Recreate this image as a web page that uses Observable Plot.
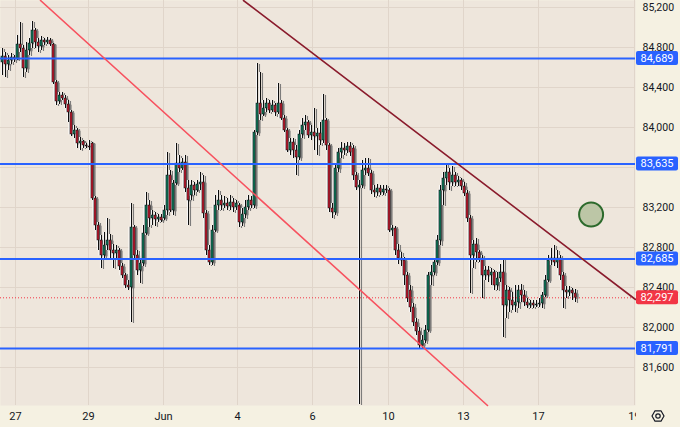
<!DOCTYPE html>
<html><head><meta charset="utf-8">
<script src="https://cdn.jsdelivr.net/npm/d3@7"></script>
<script src="https://cdn.jsdelivr.net/npm/@observablehq/plot@0.6"></script>
<style>
html,body{margin:0;padding:0;background:#f5f1e2;}
#chart svg{display:block}
</style></head><body><div id="chart"></div>
<script>
// ---- data ----
const open = [
84650,84710,84630,84670,84700,84680,84830,84790,84590,84770,
84840,84970,84850,84810,84870,84850,84870,84830,84450,84260,
84320,84290,84230,84150,83930,83970,83840,83860,83820,83810,
83840,83290,83020,82870,82720,82820,82870,82770,82740,82770,
82610,82520,82420,82400,83000,82720,82570,82640,82940,83220,
83090,83120,83080,83100,83090,83170,83520,83170,83440,83640,
83590,83650,83390,83320,83420,83370,83430,83450,83140,82770,
82650,82970,83220,83270,83220,83240,83210,83250,83200,83220,
83050,83130,83200,83270,83220,83950,84240,84130,84190,84240,
84170,84220,84150,84240,84090,83970,83770,83850,83770,83700,
83930,84020,84050,83920,83950,83910,83940,83870,84070,83820,
83190,83150,83590,83750,83790,83770,83810,83790,83520,83400,
83420,83570,83590,83540,83370,83350,83390,83350,83380,83370,
82970,82990,82770,82690,82670,82520,82370,82200,82050,81960,
81820,81870,81970,82520,82550,82650,82870,83370,83490,83550,
83450,83520,83450,83470,83410,83340,83090,82720,82830,82750,
82690,82520,82570,82520,82550,82420,82490,82550,82220,82370,
82270,82220,82250,82370,82320,82250,82220,82240,82220,82230,
82240,82320,82470,82670,82690,82650,82690,82520,82370,82350,
82370,82340];
const high = [
84790,84750,84720,84740,84720,84920,85050,84820,84850,84890,
85060,84990,84890,84910,84890,84900,84890,84840,84470,84350,
84350,84320,84270,84170,84020,83990,83900,83870,83840,83870,
83850,83310,83050,82920,82950,83090,82930,82830,82820,82790,
82640,82540,82470,83240,83020,82770,82690,83020,83350,83270,
83170,83150,83130,83130,83220,83750,83570,83470,83840,83720,
83690,83720,83470,83470,83450,83470,83550,83520,83170,82820,
83020,83320,83370,83320,83310,83290,83320,83290,83270,83240,
83190,83270,83320,83310,83970,84640,84550,84270,84290,84270,
84270,84240,84440,84270,84120,83990,83890,83890,83820,83970,
84090,84120,84070,84020,84190,83990,84050,84330,84090,83840,
83240,83620,83790,83850,83840,83850,83850,83820,83550,83470,
83670,83690,83690,83570,83420,83430,83420,83420,83420,83390,
83020,83010,82830,82750,82700,82550,82420,82240,82090,82000,
81920,82020,82550,82620,82690,82920,83420,83550,83640,83590,
83610,83550,83510,83490,83450,83370,83120,82870,82890,82770,
82720,82610,82610,82590,82570,82550,82630,82690,82420,82400,
82350,82420,82420,82430,82370,82290,82270,82270,82270,82290,
82350,82520,82720,82790,82820,82770,82720,82550,82410,82410,
82390,82380];
const low = [
84520,84500,84570,84630,84650,84670,84750,84500,84550,84720,
84790,84790,84750,84770,84820,84830,84810,84430,84220,84230,
84270,84190,84050,83910,83890,83790,83770,83790,83790,83770,
83270,82970,82770,82590,82690,82770,82690,82590,82690,82570,
82490,82390,82370,82050,82690,82520,82440,82610,82920,83000,
83020,83010,83050,83050,83070,83120,83150,83120,83420,83550,
83570,83350,83020,83270,83320,83350,83370,83090,82720,82620,
82620,82950,83170,83170,83190,83170,83170,83150,83170,83000,
83010,83090,83170,83190,83190,83920,84070,84110,84150,84140,
84150,84110,84130,84070,83950,83750,83720,83690,83520,83670,
83890,83970,83890,83870,83770,83720,83820,83840,83770,83150,
83090,83120,83550,83690,83720,83740,83710,83470,83370,81230,
83390,83520,83510,83330,83300,83310,83320,83320,83340,82950,
82910,82720,82630,82610,82420,82250,82150,82010,81920,81790,
81790,81840,81950,82420,82520,82620,82820,83220,83420,83370,
83410,83410,83410,83370,83310,83050,82340,82590,82650,82650,
82290,82470,82450,82420,82370,82370,82450,81900,82090,82150,
82170,82150,82190,82250,82210,82190,82190,82190,82200,82200,
82190,82300,82450,82620,82610,82590,82470,82190,82290,82310,
82270,82250];
const close = [
84710,84630,84670,84700,84680,84830,84790,84590,84770,84840,
84970,84850,84810,84870,84850,84870,84830,84450,84260,84320,
84290,84230,84150,83930,83970,83840,83860,83820,83810,83800,
83290,83020,82870,82720,82820,82870,82770,82740,82770,82610,
82520,82420,82400,83000,82720,82570,82640,82940,83220,83090,
83120,83080,83100,83070,83170,83520,83170,83440,83640,83590,
83650,83390,83270,83420,83370,83430,83450,83140,82770,82650,
82970,83220,83270,83220,83240,83210,83250,83200,83240,83050,
83130,83200,83270,83220,83950,84240,84130,84190,84240,84170,
84220,84150,84240,84090,83970,83770,83850,83770,83700,83930,
84020,84050,83920,83950,83910,83940,83870,84070,83820,83190,
83150,83590,83750,83790,83770,83810,83750,83520,83400,83420,
83570,83590,83540,83370,83350,83390,83350,83380,83370,82970,
82990,82770,82690,82670,82520,82290,82200,82050,81960,81820,
81870,81970,82520,82550,82650,82870,83370,83490,83550,83450,
83520,83450,83470,83410,83340,83090,82720,82830,82750,82690,
82520,82570,82520,82550,82420,82490,82550,82220,82370,82270,
82220,82250,82370,82320,82250,82220,82240,82220,82230,82240,
82320,82470,82670,82690,82650,82690,82520,82370,82350,82370,
82340,82297];

const levels = [84689, 83635, 82685, 81791];
const lastPrice = 82297;
const yGrid = [81600, 82000, 82400, 82800, 83200, 83600, 84000, 84400, 84800, 85200];
const yLabels = [81600, 82000, 82400, 82800, 83200, 84000, 84400, 84800, 85200];
const xTickPos = [4.33, 28.67, 53.67, 78.33, 103.33, 128.67, 153.67, 178.67, 210.67];
const xTickLabels = ["27", "29", "Jun", "4", "6", "10", "13", "17", "19"];
const trendPink = [{i: 12.67, p: 85270}, {i: 161.67, p: 81220}];
const trendMaroon = [{i: 80.33, p: 85270}, {i: 211, p: 82280}];
const marker = [{i: 196.2, p: 83130}];

const candles = close.map((c, k) => ({i: k, o: open[k], h: high[k], l: low[k], c}));

const chart = Plot.plot({
  width: 680, height: 427,
  marginTop: 0, marginLeft: 0, marginRight: 45, marginBottom: 22,
  style: {background: "transparent", fontFamily: "Roboto, 'Liberation Sans', sans-serif", fontSize: "11px", color: "#131722"},
  x: {domain: [-2/3, 211], axis: null},
  y: {domain: [81220, 85270], axis: null},
  marks: [
    Plot.frame({fill: "#eee6dc", stroke: null}),
    Plot.gridX(xTickPos, {stroke: "#e0d5ca", strokeOpacity: 1}),
    Plot.gridY(yGrid, {stroke: "#e0d5ca", strokeOpacity: 1}),
    Plot.axisX(xTickPos, {anchor: "bottom", tickSize: 0, tickPadding: 7, fill: "#131722", fontSize: 11,
      tickFormat: d => xTickLabels[xTickPos.indexOf(d)]}),
    Plot.axisY(yLabels, {anchor: "right", tickSize: 0, tickPadding: 7, fill: "#131722", fontSize: 10.5,
      tickFormat: d3.format(",")}),
    Plot.ruleX(candles, {x: "i", y1: "l", y2: "h", stroke: "#111", strokeWidth: 1.1}),
    Plot.rect(candles, {x1: d => d.i - 0.38, x2: d => d.i + 0.38, y1: "o", y2: "c",
      fill: d => d.c >= d.o ? "#0b7a5a" : "#c4152c", stroke: "#111", strokeWidth: 0.75}),
    Plot.ruleY(levels, {stroke: "#2962ff", strokeWidth: 2}),
    Plot.ruleY([lastPrice], {stroke: "#f23645", strokeWidth: 1, strokeDasharray: "1,2"}),
    Plot.line(trendPink, {x: "i", y: "p", stroke: "#f7525f", strokeWidth: 1.6}),
    Plot.line(trendMaroon, {x: "i", y: "p", stroke: "#8a1b2c", strokeWidth: 1.6}),
    Plot.dot(marker, {x: "i", y: "p", r: 12, fill: "#bcc6a6", stroke: "#2c6a2c", strokeWidth: 2})
  ]
});

const svg = d3.select(chart);
// candle shadow (grey, right) and light edge (white, left)
const defs = svg.insert("defs", ":first-child");
const f = defs.append("filter").attr("id", "cshadow").attr("filterUnits", "userSpaceOnUse")
  .attr("x", 0).attr("y", 0).attr("width", 680).attr("height", 427);
f.append("feGaussianBlur").attr("in", "SourceAlpha").attr("stdDeviation", 0.5).attr("result", "b");
f.append("feOffset").attr("in", "b").attr("dx", 1.8).attr("dy", 0.6).attr("result", "o");
f.append("feFlood").attr("flood-color", "#6a6a6a").attr("flood-opacity", 0.85).attr("result", "fc");
f.append("feComposite").attr("in", "fc").attr("in2", "o").attr("operator", "in").attr("result", "sh");
f.append("feOffset").attr("in", "SourceAlpha").attr("dx", -1).attr("dy", 0).attr("result", "lo");
f.append("feFlood").attr("flood-color", "#ffffff").attr("flood-opacity", 0.9).attr("result", "wc");
f.append("feComposite").attr("in", "wc").attr("in2", "lo").attr("operator", "in").attr("result", "halo");
const m = f.append("feMerge");
m.append("feMergeNode").attr("in", "sh");
m.append("feMergeNode").attr("in", "halo");
m.append("feMergeNode").attr("in", "SourceGraphic");

const wick = chart.querySelector('g[aria-label="rule"]');
const body = chart.querySelector('g[aria-label="rect"]');
if (wick && body) {
  const grp = document.createElementNS("http://www.w3.org/2000/svg", "g");
  grp.setAttribute("filter", "url(#cshadow)");
  wick.parentNode.insertBefore(grp, wick);
  grp.appendChild(wick);
  grp.appendChild(body);
}

// right-side price labels through the y scale
const ys = chart.scale("y");
const fmt = d3.format(",");
const lab = svg.append("g").attr("font-family", "Roboto, 'Liberation Sans', sans-serif").attr("font-size", 11);
function tag(v, color, text) {
  const y = ys.apply(v);
  lab.append("rect").attr("x", 636).attr("y", y - 7).attr("width", 42).attr("height", 14).attr("rx", 2).attr("fill", color);
  lab.append("text").attr("x", 657).attr("y", y).attr("dy", "0.36em").attr("text-anchor", "middle").attr("fill", "#fff").text(text);
}
levels.forEach(v => tag(v, "#2962ff", fmt(v)));
tag(lastPrice, "#f23645", fmt(lastPrice));

// cover the right corner and draw the settings icon
svg.append("rect").attr("x", 636).attr("y", 405).attr("width", 44).attr("height", 22).attr("fill", "#f5f1e2");
const cx = 658, cy = 416, R = 6;
const hex = d3.range(6).map(k => [cx + R * Math.cos(k * Math.PI / 3), cy + R * Math.sin(k * Math.PI / 3)]);
svg.append("polygon").attr("points", hex.map(p => p.join(",")).join(" ")).attr("fill", "none").attr("stroke", "#131722").attr("stroke-width", 1.2).attr("stroke-linejoin", "round");
svg.append("circle").attr("cx", cx).attr("cy", cy).attr("r", 2.2).attr("fill", "none").attr("stroke", "#131722").attr("stroke-width", 1.2);

document.getElementById("chart").appendChild(chart);
</script>
</body></html>
